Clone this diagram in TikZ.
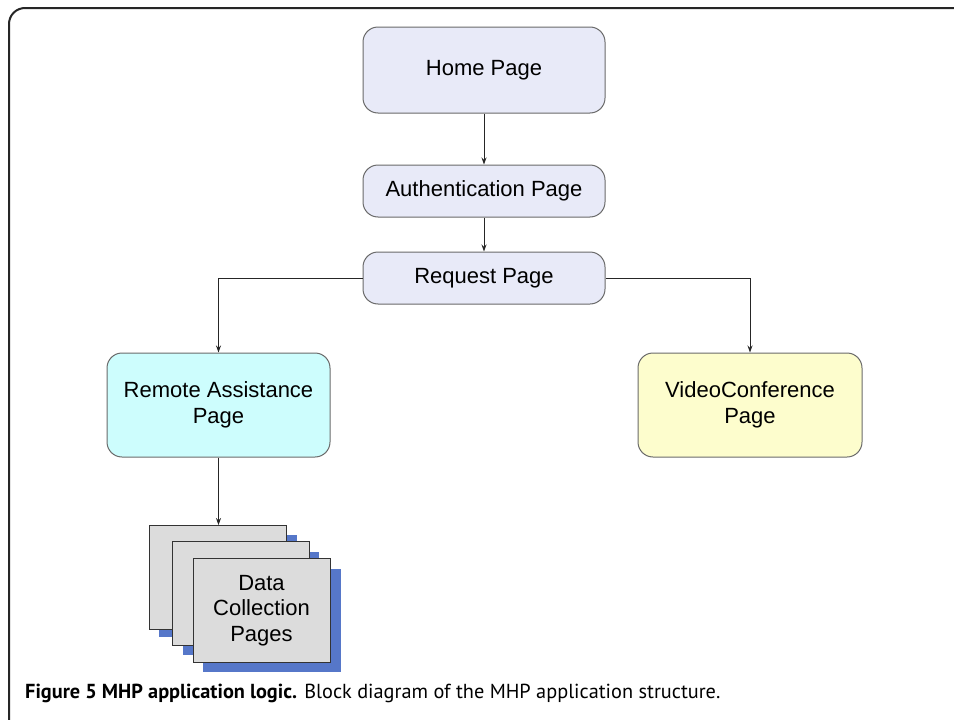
\documentclass[tikz,border=0pt]{standalone}
\usepackage{fontspec}
\setmainfont{Liberation Sans}
\newfontfamily\capfont{PT Sans}
\usetikzlibrary{arrows.meta}
\definecolor{boxline}{HTML}{6A6A6A}
\definecolor{navy}{HTML}{E8EAF8}
\definecolor{cyanfill}{HTML}{CDFDFD}
\definecolor{yellowfill}{HTML}{FDFDCD}
\definecolor{grayfill}{HTML}{DCDCDC}
\definecolor{shadowblue}{HTML}{5677C9}
\tikzset{
  x=1pt, y=-1pt,
  pagebox/.style={draw=boxline, line width=1pt, rounded corners=15pt, align=center,
    font=\fontsize{22}{26}\selectfont, inner sep=0pt},
  sheet/.style={draw=black!80, line width=0.9pt, fill=grayfill, minimum width=137pt,
    minimum height=104pt, inner sep=0pt, align=center, font=\fontsize{22}{25.5}\selectfont},
  conn/.style={draw=black!85, line width=1pt, -{Stealth[length=7pt,width=5pt]}},
}
\begin{document}
\begin{tikzpicture}
\useasboundingbox (0,0) rectangle (954,720);
\begin{scope}
\clip (0,0) rectangle (954,720);
% frame
\draw[line width=2pt, color=black!85, rounded corners=16pt] (9,730) -- (9,8) -- (970,8);
\end{scope}
% top boxes
\node[pagebox, fill=navy, minimum width=242pt, minimum height=86pt] (home) at (484,70) {Home Page};
\node[pagebox, fill=navy, minimum width=242pt, minimum height=52pt] (auth) at (484,191) {Authentication Page};
\node[pagebox, fill=navy, minimum width=242pt, minimum height=52pt] (req) at (484,278) {Request Page};
\node[pagebox, fill=cyanfill, minimum width=223pt, minimum height=104pt] (remote) at (218.5,405) {Remote Assistance\\Page};
\node[pagebox, fill=yellowfill, minimum width=224pt, minimum height=104pt] (video) at (750,405) {VideoConference\\Page};
% stacked pages
\fill[shadowblue] (159,535) rectangle (297,637);
\node[sheet] (p1) at (218,577.5) {};
\fill[shadowblue] (183,552) rectangle (319,655);
\node[sheet] (p2) at (241,593.5) {};
\fill[shadowblue] (203,569) rectangle (341,672);
\node[sheet] (pages) at (261.5,610.5) {Data\\Collection\\Pages};
% connectors
\draw[conn] (home) -- (auth);
\draw[conn] (auth) -- (req);
\draw[conn] (req.west) -| (remote.north);
\draw[conn] (req.east) -| (video.north);
\draw[conn] (remote.south) -- (remote.south |- p1.north);
% caption
\node[anchor=base west, inner sep=0pt, font=\capfont\fontsize{20.3}{24}\selectfont] (cap) at (25,698)
  {\textbf{Figure 5 MHP application logic.} Block diagram of the MHP application structure.};
\end{tikzpicture}
\end{document}
